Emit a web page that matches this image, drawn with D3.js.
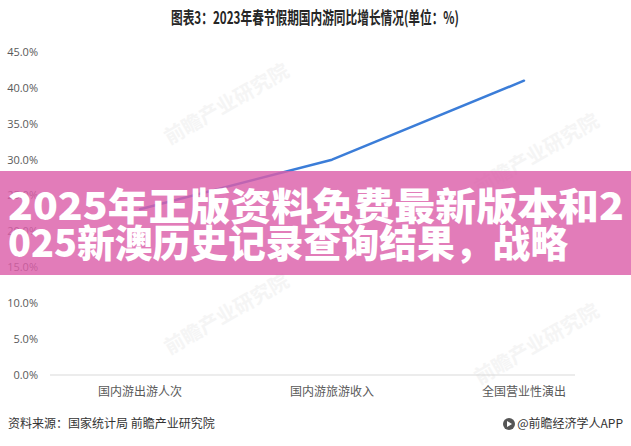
<!DOCTYPE html>
<html><head><meta charset="utf-8">
<script src="https://cdn.jsdelivr.net/npm/d3@7/dist/d3.min.js"></script>
<style>
html,body{margin:0;padding:0;background:#fff;}
svg{display:block;font-family:"Noto Sans CJK SC","Noto Sans",sans-serif;}
</style></head>
<body>
<svg id="c" width="631" height="446"></svg>
<script>
const categories = ["国内游出游人次", "国内游旅游收入", "全国营业性演出"];
const values = [23.1, 30.0, 41.0];
const yTicks = [0, 5, 10, 15, 20, 25, 30, 35, 40, 45];
const titleText = "图表3：2023年春节假期国内游同比增长情况(单位：%)";
const sourceText = "资料来源：国家统计局 前瞻产业研究院";
const brandText = "@前瞻经济学人APP";
const bannerLines = ["2025年正版资料免费最新版本和2", "025新澳历史记录查询结果，战略"];
const bannerWidths = [616, 560];
const watermarks = [[230, 110], [540, 160], [230, 320], [540, 350]];

const svg = d3.select("#c");
const W = 631;
const axisLeft = 50, axisRight = 575;

const y = d3.scaleLinear().domain([0, 45]).range([375, 52]);
const x = d3.scalePoint().domain(categories).range([140, 524]);

// faint watermarks
const wm = svg.append("g").attr("fill", "#f5f5f5").attr("font-size", 20).attr("font-weight", 700);
watermarks.forEach(([wx, wy]) => {
  wm.append("text").attr("transform", `translate(${wx},${wy}) rotate(-30)`)
    .attr("text-anchor", "middle").text("前瞻产业研究院");
});

// title
svg.append("text").attr("x", 315).attr("y", 24).attr("text-anchor", "middle")
  .attr("font-size", 17).attr("font-weight", 700).attr("fill", "#262626")
  .attr("textLength", 288).attr("lengthAdjust", "spacingAndGlyphs").text(titleText);

// y labels
svg.append("g").selectAll("text").data(yTicks).join("text")
  .attr("x", 38).attr("y", d => y(d)).attr("dy", "0.35em").attr("text-anchor", "end")
  .attr("font-size", 11).attr("fill", "#595959").attr("font-family", "'Open Sans','DejaVu Sans',sans-serif")
  .text(d => d.toFixed(1) + "%");

// x axis line
svg.append("line").attr("x1", axisLeft).attr("x2", axisRight).attr("y1", y(0)).attr("y2", y(0))
  .attr("stroke", "#d9d9d9").attr("stroke-width", 1);

// x labels
svg.append("g").selectAll("text").data(categories).join("text")
  .attr("x", d => x(d)).attr("y", 396).attr("text-anchor", "middle")
  .attr("font-size", 12).attr("fill", "#595959").text(d => d);

// line
const line = d3.line().x((d, i) => x(categories[i])).y(d => y(d)).curve(d3.curveLinear);
svg.append("path").datum(values).attr("d", line).attr("fill", "none")
  .attr("stroke", "#3b7dd8").attr("stroke-width", 2.5).attr("stroke-linecap", "round").attr("stroke-linejoin", "round");

// footer
svg.append("text").attr("x", 8).attr("y", 428).attr("font-size", 12).attr("fill", "#333").text(sourceText);
svg.append("text").attr("x", 623).attr("y", 428).attr("text-anchor", "end").attr("font-size", 12).attr("fill", "#333").text(brandText);
const lg = svg.append("g").attr("transform", "translate(509,424)");
lg.append("circle").attr("r", 6).attr("fill", "#555");
lg.append("path").attr("d", "M-2,-3 L3,0 L-2,3 Z").attr("fill", "#fff");

// banner overlay
svg.append("rect").attr("x", 0).attr("y", 171).attr("width", W).attr("height", 104)
  .attr("fill", "rgb(220,95,170)").attr("opacity", 0.82);
svg.append("g").selectAll("text").data(bannerLines).join("text")
  .attr("x", 8).attr("y", (d, i) => 220 + i * 37)
  .attr("font-size", 38).attr("font-weight", 900).attr("fill", "#fff")
  .attr("textLength", (d, i) => bannerWidths[i]).attr("lengthAdjust", "spacingAndGlyphs")
  .text(d => d);
</script>
</body></html>
